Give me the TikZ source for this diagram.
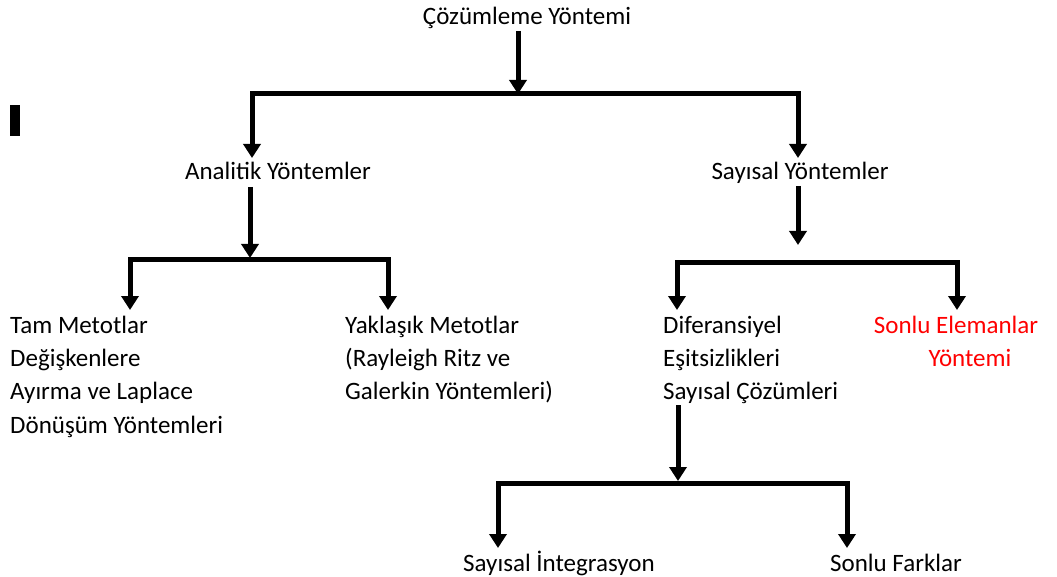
\documentclass[tikz,border=0pt]{standalone}
\usepackage{fontspec}
\setmainfont{Carlito}
\usetikzlibrary{arrows.meta}
\begin{document}
\begin{tikzpicture}[x=1pt,y=-1pt,
  lbl/.style={inner sep=0pt,font=\fontsize{25}{33.3}\selectfont},
  conn/.style={line width=5pt,line join=miter},
  arr/.style={conn,-{Triangle[width=17pt,length=14pt]}}]
\useasboundingbox (0,0) rectangle (1057,577);

% text nodes (multi-line nodes are anchored at the baseline of their last line)
\node[lbl,anchor=base] (root) at (527,25) {Çözümleme Yöntemi};
\node[lbl,anchor=base] (ana) at (278,180) {Analitik Yöntemler};
\node[lbl,anchor=base] (say) at (800,180) {Sayısal Yöntemler};
\node[lbl,anchor=base west,align=left] (tam) at (10,433)
  {Tam Metotlar\\Değişkenlere\\Ayırma ve Laplace\\Dönüşüm Yöntemleri};
\node[lbl,anchor=base west,align=left] (yak) at (345,399.6)
  {Yaklaşık Metotlar\\(Rayleigh Ritz ve\\Galerkin Yöntemleri)};
\node[lbl,anchor=base west,align=left] (dif) at (663,399.6)
  {Diferansiyel\\Eşitsizlikleri\\Sayısal Çözümleri};
\node[lbl,anchor=base,align=center,text=red] (fem) at (956,366.3)
  {Sonlu Elemanlar\\\hspace*{28pt}Yöntemi};
\node[lbl,anchor=base] (int) at (559,571) {Sayısal İntegrasyon};
\node[lbl,anchor=base west] (fd) at (830,571) {Sonlu Farklar};

% small black bar at left
\node[fill=black,inner sep=0pt,minimum width=10pt,minimum height=31pt] (bar) at (15,120.5) {};

% junction coordinates
\coordinate (r0) at (518,31);
\coordinate (r1) at (518,94);
\coordinate (b1L) at (252,94);
\coordinate (b1R) at (798,94);
\coordinate (t1L) at (252,158);
\coordinate (t1R) at (798,158);

\coordinate (a0) at (250,187);
\coordinate (a1) at (250,258);
\coordinate (b2L) at (130,260);
\coordinate (b2R) at (388,260);
\coordinate (t2L) at (130,310);
\coordinate (t2R) at (388,310);

\coordinate (s0) at (798,186);
\coordinate (s1) at (798,245);
\coordinate (b3L) at (677,263);
\coordinate (b3R) at (957,263);
\coordinate (t3L) at (677,310);
\coordinate (t3R) at (957,310);

\coordinate (d0) at (678,405);
\coordinate (d1) at (678,481);
\coordinate (b4L) at (498,483);
\coordinate (b4R) at (847,483);
\coordinate (t4L) at (498,548);
\coordinate (t4R) at (847,548);

% connectors
\draw[arr] (r0) -- (r1);
\draw[arr] (b1R) -- (b1L) -- (t1L);
\draw[arr] (b1L) -- (b1R) -- (t1R);

\draw[arr] (a0) -- (a1);
\draw[arr] (b2R) -- (b2L) -- (t2L);
\draw[arr] (b2L) -- (b2R) -- (t2R);

\draw[arr] (s0) -- (s1);
\draw[arr] (b3R) -- (b3L) -- (t3L);
\draw[arr] (b3L) -- (b3R) -- (t3R);

\draw[arr] (d0) -- (d1);
\draw[arr] (b4R) -- (b4L) -- (t4L);
\draw[arr] (b4L) -- (b4R) -- (t4R);
\end{tikzpicture}
\end{document}
